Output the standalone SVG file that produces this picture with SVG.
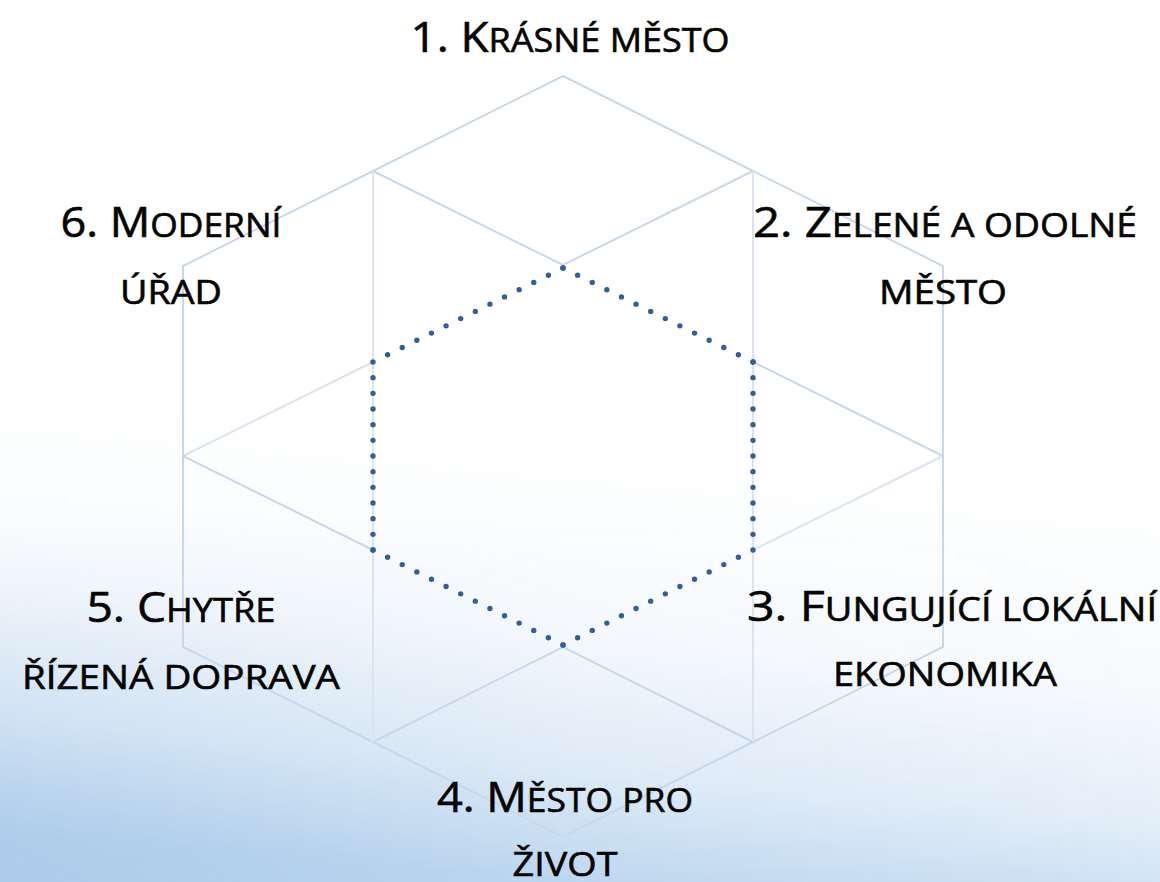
<svg xmlns="http://www.w3.org/2000/svg" width="1160" height="882" viewBox="0 0 1160 882">
  <defs>
    <linearGradient id="bgV" gradientUnits="userSpaceOnUse" x1="600" y1="440" x2="560" y2="882">
      <stop offset="0" stop-color="#ffffff"/>
      <stop offset="0.45" stop-color="#f7fafd"/>
      <stop offset="0.75" stop-color="#e3eef9"/>
      <stop offset="1" stop-color="#c2daf1"/>
    </linearGradient>
    <linearGradient id="bgH" gradientUnits="userSpaceOnUse" x1="0" y1="0" x2="1160" y2="0">
      <stop offset="0" stop-color="#86b3df" stop-opacity="0.38"/>
      <stop offset="0.5" stop-color="#86b3df" stop-opacity="0.08"/>
      <stop offset="1" stop-color="#86b3df" stop-opacity="0"/>
    </linearGradient>
    <linearGradient id="bgMask" gradientUnits="userSpaceOnUse" x1="0" y1="520" x2="0" y2="882">
      <stop offset="0" stop-color="#fff" stop-opacity="0"/>
      <stop offset="1" stop-color="#fff" stop-opacity="1"/>
    </linearGradient>
    <mask id="m1">
      <rect x="0" y="0" width="1160" height="882" fill="url(#bgMask)"/>
    </mask>
  </defs>
  <style>
    .ln { stroke: #c9d7ea; stroke-width: 2; fill: none; stroke-linecap: round; }
    .lt { stroke: #dbe3ee; stroke-width: 2; fill: none; }
    .dot { stroke: #2f5f9f; stroke-width: 5.4; stroke-linecap: round; stroke-dasharray: 0 1; fill: none; }
    .lbl { font-family: "Open Sans", "Noto Sans", "DejaVu Sans", sans-serif; font-size: 42px; fill: #050505; stroke: #050505; stroke-width: 0.6; text-anchor: middle; }
    .sc { font-size: 33px; }
  </style>

  <rect x="0" y="0" width="1160" height="882" fill="url(#bgV)"/>
  <rect x="0" y="0" width="1160" height="882" fill="url(#bgH)" mask="url(#m1)"/>

  <g id="connectors">
    <polyline class="ln" points="563,76 753,171 943,266 943,647 753,742 563,837 373,742 183,647 183,266 373,171 563,76"/>
    <polyline class="ln" points="373,171 563,265 753,171"/>
    <polyline class="ln" points="373,742 563,647 753,742"/>
    <line class="lt" x1="373" y1="171" x2="373" y2="742"/>
    <line class="lt" x1="753" y1="171" x2="753" y2="742"/>
    <line class="lt" x1="183" y1="456" x2="373" y2="362"/>
    <line class="ln" x1="183" y1="456" x2="373" y2="550"/>
    <line class="ln" x1="943" y1="456" x2="753" y2="362"/>
    <line class="lt" x1="943" y1="456" x2="753" y2="550"/>
    <line class="dot" x1="563" y1="268" x2="753" y2="362" pathLength="13"/>
    <line class="dot" x1="753" y1="362" x2="753" y2="550" pathLength="12"/>
    <line class="dot" x1="753" y1="550" x2="563" y2="645" pathLength="13"/>
    <line class="dot" x1="563" y1="645" x2="373" y2="550" pathLength="13"/>
    <line class="dot" x1="373" y1="550" x2="373" y2="362" pathLength="12"/>
    <line class="dot" x1="373" y1="362" x2="563" y2="268" pathLength="13"/>
  </g>

  <g id="node1">
    <text class="lbl" x="570" y="52" textLength="319" lengthAdjust="spacingAndGlyphs">1. K<tspan class="sc">RÁSNÉ MĚSTO</tspan></text>
  </g>
  <g id="node2">
    <text class="lbl" x="945" y="237" textLength="384" lengthAdjust="spacingAndGlyphs">2. Z<tspan class="sc">ELENÉ A ODOLNÉ</tspan></text>
    <text class="lbl sc" x="943" y="304" textLength="128" lengthAdjust="spacingAndGlyphs">MĚSTO</text>
  </g>
  <g id="node3">
    <text class="lbl" x="952" y="621" textLength="410" lengthAdjust="spacingAndGlyphs">3. F<tspan class="sc">UNGUJÍCÍ LOKÁLNÍ</tspan></text>
    <text class="lbl sc" x="945" y="686" textLength="224" lengthAdjust="spacingAndGlyphs">EKONOMIKA</text>
  </g>
  <g id="node4">
    <text class="lbl" x="565" y="812" textLength="256" lengthAdjust="spacingAndGlyphs">4. M<tspan class="sc">ĚSTO PRO</tspan></text>
    <text class="lbl sc" x="565" y="876" textLength="105" lengthAdjust="spacingAndGlyphs">ŽIVOT</text>
  </g>
  <g id="node5">
    <text class="lbl" x="181" y="622" textLength="189" lengthAdjust="spacingAndGlyphs">5. C<tspan class="sc">HYTŘE</tspan></text>
    <text class="lbl sc" x="181" y="689" textLength="318" lengthAdjust="spacingAndGlyphs">ŘÍZENÁ DOPRAVA</text>
  </g>
  <g id="node6">
    <text class="lbl" x="171" y="237" textLength="221" lengthAdjust="spacingAndGlyphs">6. M<tspan class="sc">ODERNÍ</tspan></text>
    <text class="lbl sc" x="171" y="304" textLength="102" lengthAdjust="spacingAndGlyphs">ÚŘAD</text>
  </g>
</svg>
